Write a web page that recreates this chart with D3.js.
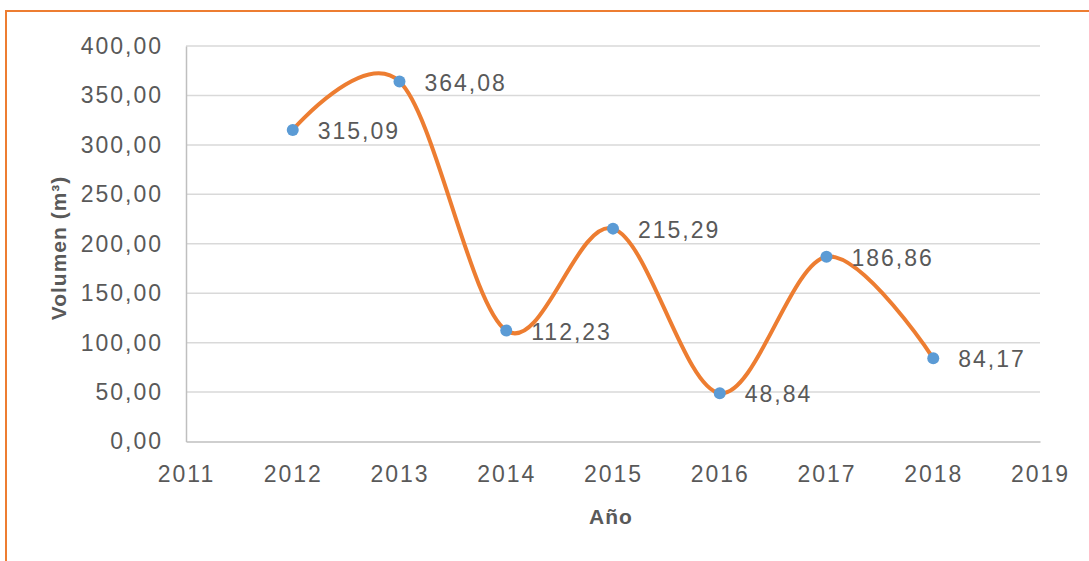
<!DOCTYPE html>
<html>
<head>
<meta charset="utf-8">
<script src="https://cdn.jsdelivr.net/npm/d3@7"></script>
<style>
  body { margin: 0; background: #fff; }
  text { font-family: "Liberation Sans", Arial, sans-serif; fill: #595959; }
</style>
</head>
<body>
<div class="container"></div>
<script>
var years = [2012, 2013, 2014, 2015, 2016, 2017, 2018];
var volumes = [315.09, 364.08, 112.23, 215.29, 48.84, 186.86, 84.17];
var labels = ['315,09', '364,08', '112,23', '215,29', '48,84', '186,86', '84,17'];
var yTicks = [0, 50, 100, 150, 200, 250, 300, 350, 400];
var xTicks = [2011, 2012, 2013, 2014, 2015, 2016, 2017, 2018, 2019];

var translate = function (x, y) {
    return 'translate(' + x + ', ' + y + ')';
};

var formatComma = function (v) {
    return v.toFixed(2).replace('.', ',');
};

var visualize = function () {
    const WIDTH = 1089;
    const HEIGHT = 561;
    const LEFT = 186, RIGHT = 1040, TOP = 46, BOTTOM = 441.5;

    var svg = d3.select('.container')
        .append('svg')
        .attr('width', WIDTH)
        .attr('height', HEIGHT);

    // frame around the chart (cut off at right and bottom)
    svg.append('rect')
        .attr('x', 6).attr('y', 11)
        .attr('width', WIDTH + 20).attr('height', HEIGHT + 20)
        .attr('fill', 'none')
        .attr('stroke', '#ED7D31')
        .attr('stroke-width', 2);

    var xScale = d3.scaleLinear().domain([2011, 2019]).range([LEFT, RIGHT]);
    var yScale = d3.scaleLinear().domain([0, 400]).range([BOTTOM, TOP]);

    // gridlines
    svg.append('g').selectAll('line')
        .data(yTicks.filter(function (d) { return d > 0; }))
        .enter().append('line')
        .attr('x1', LEFT).attr('x2', RIGHT)
        .attr('y1', function (d) { return yScale(d); })
        .attr('y2', function (d) { return yScale(d); })
        .attr('stroke', '#d9d9d9')
        .attr('stroke-width', 1.5);

    var yAxis = d3.axisLeft(yScale).tickValues(yTicks).tickSize(0).tickPadding(23)
        .tickFormat(formatComma);
    var xAxis = d3.axisBottom(xScale).tickValues(xTicks).tickSize(0).tickPadding(23)
        .tickFormat(d3.format('d'));

    var gy = svg.append('g').attr('transform', translate(LEFT, 0)).call(yAxis);
    var gx = svg.append('g').attr('transform', translate(0, BOTTOM)).call(xAxis);

    [gy, gx].forEach(function (g) {
        g.select('.domain').attr('stroke', '#bfbfbf').attr('stroke-width', 1.5);
        g.selectAll('text')
            .attr('fill', '#595959')
            .style('font-size', '23px')
            .style('letter-spacing', '2px');
    });
    gx.selectAll('text').attr('dy', '0.35em').attr('y', 32);

    // axis titles
    svg.append('text')
        .attr('x', 611).attr('y', 524)
        .attr('text-anchor', 'middle')
        .style('font-size', '21px')
        .style('font-weight', 'bold')
        .style('letter-spacing', '1px')
        .text('Año');

    svg.append('text')
        .attr('transform', translate(66, 248) + ' rotate(-90)')
        .attr('text-anchor', 'middle')
        .style('font-size', '21px')
        .style('font-weight', 'bold')
        .style('letter-spacing', '1px')
        .text('Volumen (m³)');

    var data = years.map(function (y, i) {
        return {x: y, y: volumes[i], label: labels[i]};
    });

    var line = d3.line()
        .x(function (d) { return xScale(d.x); })
        .y(function (d) { return yScale(d.y); })
        .curve(d3.curveCardinal.tension(0));

    svg.append('path')
        .datum(data)
        .attr('d', line)
        .attr('fill', 'none')
        .attr('stroke', '#ED7D31')
        .attr('stroke-width', 4);

    svg.append('g').selectAll('circle')
        .data(data)
        .enter().append('circle')
        .attr('cx', function (d) { return xScale(d.x); })
        .attr('cy', function (d) { return yScale(d.y); })
        .attr('r', 6)
        .attr('fill', '#5B9BD5');

    svg.append('g').selectAll('text')
        .data(data)
        .enter().append('text')
        .attr('x', function (d) { return xScale(d.x) + 25; })
        .attr('y', function (d) { return yScale(d.y) + 1; })
        .attr('dy', '0.35em')
        .style('font-size', '23px')
        .style('letter-spacing', '2px')
        .text(function (d) { return d.label; });
};

window.onload = visualize;
</script>
</body>
</html>
